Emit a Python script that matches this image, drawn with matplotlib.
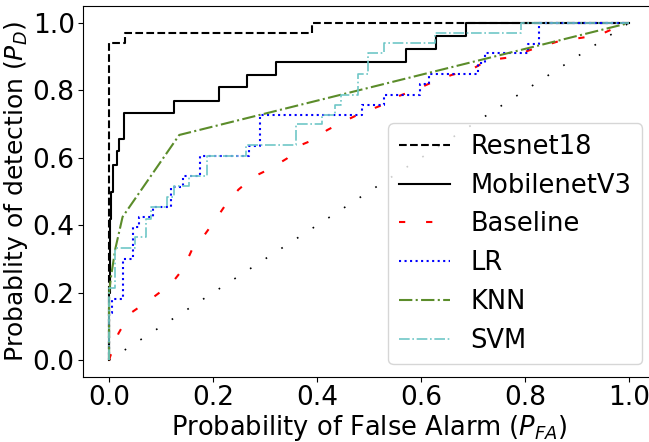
import matplotlib
matplotlib.use("Agg")
import matplotlib.pyplot as plt

# ROC points (false alarm rate, detection rate)
resnet_fpr = [0.0, 0.0, 0.03, 0.03, 0.39, 0.39, 1.0]
resnet_tpr = [0.0, 0.94, 0.94, 0.97, 0.97, 1.0, 1.0]

mobile_fpr = [0.0, 0.0, 0.002, 0.002, 0.004, 0.004, 0.008, 0.008, 0.015, 0.015,
              0.02, 0.02, 0.029, 0.029, 0.124, 0.124, 0.212, 0.212, 0.265, 0.265,
              0.321, 0.321, 0.571, 0.571, 0.629, 0.629, 0.686, 0.686, 1.0]
mobile_tpr = [0.0, 0.2, 0.2, 0.42, 0.42, 0.5, 0.5, 0.58, 0.58, 0.62,
              0.62, 0.655, 0.655, 0.732, 0.732, 0.77, 0.77, 0.81, 0.81, 0.847,
              0.847, 0.885, 0.885, 0.924, 0.924, 0.963, 0.963, 1.0, 1.0]

base_fpr = [0.0, 0.002, 0.018, 0.04, 0.082, 0.12, 0.143, 0.159, 0.181, 0.204,
            0.226, 0.249, 0.278, 0.31, 0.342, 0.364, 0.40, 0.419, 0.45, 0.484,
            0.521, 0.553, 0.588, 0.624, 0.659, 0.697, 0.729, 0.771, 0.81, 0.867,
            0.912, 0.951, 0.986, 1.0]
base_tpr = [0.0, 0.01, 0.079, 0.138, 0.183, 0.227, 0.272, 0.326, 0.366, 0.415,
            0.465, 0.506, 0.544, 0.568, 0.598, 0.635, 0.658, 0.682, 0.707, 0.732,
            0.754, 0.781, 0.801, 0.826, 0.846, 0.862, 0.89, 0.898, 0.92, 0.947,
            0.957, 0.97, 0.994, 1.0]

lr_fpr = [0.0, 0.0, 0.005, 0.005, 0.027, 0.027, 0.047, 0.047, 0.058, 0.058,
          0.084, 0.084, 0.119, 0.119, 0.143, 0.143, 0.175, 0.175, 0.269, 0.269,
          0.29, 0.29, 0.486, 0.486, 0.528, 0.528, 0.598, 0.598, 0.615, 0.615,
          0.71, 0.71, 0.723, 0.723, 0.806, 0.806, 0.827, 0.827, 1.0]
lr_tpr = [0.0, 0.14, 0.14, 0.18, 0.18, 0.30, 0.30, 0.395, 0.395, 0.425,
          0.425, 0.455, 0.455, 0.515, 0.515, 0.545, 0.545, 0.607, 0.607, 0.636,
          0.636, 0.727, 0.727, 0.758, 0.758, 0.788, 0.788, 0.818, 0.818, 0.848,
          0.848, 0.88, 0.88, 0.911, 0.911, 0.937, 0.937, 1.0, 1.0]

knn_fpr = [0.0, 0.0, 0.004, 0.012, 0.026, 0.135, 1.0]
knn_tpr = [0.0, 0.2, 0.25, 0.33, 0.425, 0.668, 1.0]

svm_fpr = [0.0, 0.0, 0.011, 0.011, 0.05, 0.05, 0.072, 0.072, 0.08, 0.08,
           0.111, 0.111, 0.124, 0.124, 0.153, 0.153, 0.188, 0.188, 0.263, 0.263,
           0.36, 0.36, 0.41, 0.41, 0.435, 0.435, 0.447, 0.447, 0.478, 0.478,
           0.499, 0.499, 0.528, 0.528, 0.628, 0.628, 0.793, 0.793, 1.0]
svm_tpr = [0.0, 0.213, 0.213, 0.333, 0.333, 0.365, 0.365, 0.42, 0.42, 0.455,
           0.455, 0.485, 0.485, 0.516, 0.516, 0.546, 0.546, 0.605, 0.605, 0.637,
           0.637, 0.70, 0.70, 0.727, 0.727, 0.757, 0.757, 0.788, 0.788, 0.848,
           0.848, 0.911, 0.911, 0.94, 0.94, 0.97, 0.97, 1.0, 1.0]

chance = [0.0, 1.0]

fig = plt.figure(figsize=(6.49, 4.42), dpi=100)
ax = fig.add_axes([0.128, 0.147, 0.881, 0.839])

ax.plot(chance, chance, color="k", lw=1.2, dashes=(1, 10.2))
ax.plot(resnet_fpr, resnet_tpr, "k--", lw=1.5, label="Resnet18")
ax.plot(mobile_fpr, mobile_tpr, "k-", lw=1.5, label="MobilenetV3")
ax.plot(base_fpr, base_tpr, color="r", lw=1.5, dashes=(3, 10), label="Baseline")
ax.plot(lr_fpr, lr_tpr, "b:", lw=1.5, label="LR")
ax.plot(knn_fpr, knn_tpr, "-.", color="#5b8c2a", lw=1.5, label="KNN")
ax.plot(svm_fpr, svm_tpr, "-.", color="#6fc7c7", lw=1.2, label="SVM")

ax.set_xlim(-0.05, 1.05)
ax.set_ylim(-0.05, 1.05)
ax.set_xticks([0.0, 0.2, 0.4, 0.6, 0.8, 1.0])
ax.set_yticks([0.0, 0.2, 0.4, 0.6, 0.8, 1.0])
ax.tick_params(labelsize=19, pad=2.5)
ax.set_xlabel("Probability of False Alarm ($P_{FA}$)", fontsize=18.5, labelpad=1)
ax.set_ylabel("Probablity of detection ($P_D$)", fontsize=18, labelpad=2)
ax.legend(loc="lower right", fontsize=18.5)

fig.savefig("out.png", dpi=100)
